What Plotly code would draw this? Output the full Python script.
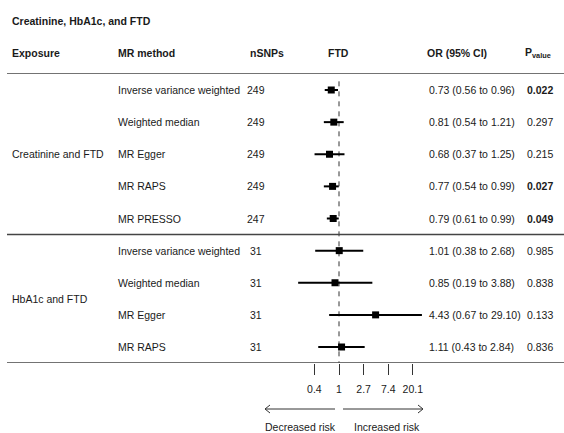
import math
import plotly.graph_objects as go

# ---- data -----------------------------------------------------------------
exposures = ["Creatinine and FTD", "HbA1c and FTD"]
exposure_rows = [2, 6.5]          # row on which each exposure label is centred
methods = ["Inverse variance weighted", "Weighted median", "MR Egger", "MR RAPS", "MR PRESSO",
           "Inverse variance weighted", "Weighted median", "MR Egger", "MR RAPS"]
nsnps = [249, 249, 249, 249, 247, 31, 31, 31, 31]
odds_ratio = [0.73, 0.81, 0.68, 0.77, 0.79, 1.01, 0.85, 4.43, 1.11]
ci_low = [0.56, 0.54, 0.37, 0.54, 0.61, 0.38, 0.19, 0.67, 0.43]
ci_high = [0.96, 1.21, 1.25, 0.99, 0.99, 2.68, 3.88, 29.10, 2.84]
p_values = ["0.022", "0.297", "0.215", "0.027", "0.049", "0.985", "0.838", "0.133", "0.836"]
p_bold = [True, False, False, True, True, False, False, False, False]
tick_values = [math.exp(k) for k in (-1, 0, 1, 2, 3)]
tick_labels = ["0.4", "1", "2.7", "7.4", "20.1"]
group_break = 4.5                 # separator between the two exposures

# ---- layout constants -----------------------------------------------------
W, H = 564, 433
FONT = "Liberation Sans, Arial, sans-serif"
TXT = "#1a1a1a"
FS = 10.5

def px(x):
    return x / W

def py(y):
    return 1 - y / H

rows = list(range(len(methods)))

fig = go.Figure()

# confidence intervals
cx, cy = [], []
for r, lo, hi in zip(rows, ci_low, ci_high):
    cx += [lo, hi, None]
    cy += [r, r, None]
fig.add_trace(go.Scatter(x=cx, y=cy, mode="lines", line=dict(color="black", width=2),
                         hoverinfo="skip", showlegend=False))
# point estimates
fig.add_trace(go.Scatter(x=odds_ratio, y=rows, mode="markers",
                         marker=dict(symbol="square", size=7, color="black"),
                         showlegend=False))

ann = []

def text(x, y, s, yref="y", bold=False, anchor="left", size=FS):
    ann.append(dict(x=px(x), y=y, xref="paper", yref=yref, text=f"<b>{s}</b>" if bold else s,
                    showarrow=False, xanchor=anchor, yanchor="middle",
                    font=dict(family=FONT, size=size, color=TXT)))

# title and header
text(10, py(21), "Creatinine, HbA1c, and FTD", yref="paper", bold=True)
text(10, py(53), "Exposure", yref="paper", bold=True)
text(116, py(53), "MR method", yref="paper", bold=True)
text(248, py(53), "nSNPs", yref="paper", bold=True)
text(338, py(53), "FTD", yref="paper", bold=True, anchor="center")
text(425, py(53), "OR (95% CI)", yref="paper", bold=True)
text(523, py(53), "P<sub>value</sub>", yref="paper", bold=True)

# table body
for lab, r in zip(exposures, exposure_rows):
    text(10, r, lab)
for r, m, n, o, lo, hi, p, b in zip(rows, methods, nsnps, odds_ratio, ci_low, ci_high, p_values, p_bold):
    text(116, r, m)
    text(256, r, str(n), anchor="center")
    text(427, r, f"{o:.2f} ({lo:.2f} to {hi:.2f})")
    text(525, r, p, bold=b)

text(300, py(427), "Decreased risk", yref="paper", anchor="center")
text(387, py(427), "Increased risk", yref="paper", anchor="center")

Y_TOP, Y_BOT = 73, 363
row_px = 32.125
yr_top = -(90 - Y_TOP) / row_px
yr_bot = 8 + (Y_BOT - 347) / row_px

shapes = []
for yv in (yr_top, group_break, yr_bot):
    shapes.append(dict(type="line", xref="paper", yref="y", x0=px(7), x1=1, y0=yv, y1=yv,
                       line=dict(color="#444", width=1.5)))
shapes.append(dict(type="line", xref="x", yref="y", x0=1, x1=1, y0=-0.27, y1=yr_bot,
                   line=dict(color="#333", width=1, dash="5px,5px"), layer="below"))

# direction arrows (shaft + open chevron head), in page pixels
ARROW_Y = 409
for tail, head in ((335, 265), (343, 423)):
    d = 1 if head > tail else -1
    shapes.append(dict(type="line", xref="paper", yref="paper", x0=px(tail), x1=px(head),
                       y0=py(ARROW_Y), y1=py(ARROW_Y), line=dict(color="#333", width=1)))
    shapes.append(dict(type="path", xref="paper", yref="paper",
                       path=(f"M{px(head - d * 5)},{py(ARROW_Y - 4)} L{px(head)},{py(ARROW_Y)} "
                             f"L{px(head - d * 5)},{py(ARROW_Y + 4)}"),
                       line=dict(color="#333", width=1)))

# forest axis: 1 at 339 px, ~24.6 px per natural-log unit
ppl10 = 24.6 * math.log(10)
x_lo, x_hi = 290, 430
xrange = [(x_lo - 339) / ppl10, (x_hi - 339) / ppl10]

fig.update_layout(
    width=W, height=H, margin=dict(l=0, r=0, t=0, b=0),
    paper_bgcolor="white", plot_bgcolor="rgba(0,0,0,0)",
    annotations=ann, shapes=shapes,
    xaxis=dict(type="log", domain=[px(x_lo), px(x_hi)], range=xrange,
               tickvals=tick_values, ticktext=tick_labels, ticks="outside", ticklen=11,
               tickwidth=1, tickcolor="#333", showline=False, showgrid=False, zeroline=False,
               ticklabelstandoff=5, tickfont=dict(family=FONT, size=FS, color=TXT)),
    yaxis=dict(domain=[py(Y_BOT), py(Y_TOP)], range=[yr_bot, yr_top], visible=False,
               showgrid=False, zeroline=False),
)

fig.write_html("out.html")
